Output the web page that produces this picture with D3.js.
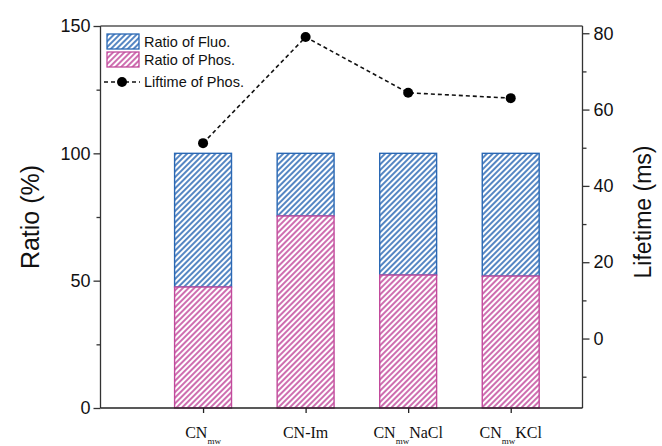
<!DOCTYPE html>
<html><head><meta charset="utf-8">
<script src="https://cdn.jsdelivr.net/npm/d3@7"></script>
<style>body{margin:0;background:#fff}svg{display:block}</style>
</head><body>
<svg id="c" width="662" height="446"></svg>
<script>
const categories = ["CN_mw", "CN-Im", "CN_mwNaCl", "CN_mwKCl"];
const phosRatio = [47.5, 75.4, 52.2, 51.8];
const fluoRatio = [52.5, 24.6, 47.8, 48.2];
const lifetime = [51.2, 79.0, 64.4, 63.0];
const leftTicks = [0, 50, 100, 150];
const rightTicks = [0, 20, 40, 60, 80];

const svg = d3.select("#c");
const L = 100.5, R = 582.5, T = 26, B = 408;
const x = d3.scaleLinear().domain([0, 4.7]).range([L, R]);
const y = d3.scaleLinear().domain([0, 150]).range([B, T]);
const y2 = d3.scaleLinear().domain([-18.2, 81.9]).range([B, T]);
const blue = "#2a68b4", pink = "#c24a9c";
const defs = svg.append("defs");
function hatch(id, col){
  const s = 4;
  const p = defs.append("pattern").attr("id", id).attr("patternUnits","userSpaceOnUse")
    .attr("width", s).attr("height", s).attr("patternTransform","rotate(45)");
  p.append("rect").attr("width",s).attr("height",s).attr("fill","#fff");
  p.append("line").attr("x1",1).attr("y1",0).attr("x2",1).attr("y2",s)
    .attr("stroke", col).attr("stroke-width",1.6);
}
hatch("hb", blue); hatch("hp", pink);

const bw = 0.555;
const g = svg.append("g");
categories.forEach((c,i)=>{
  const xc = i+1;
  const x0 = x(xc - bw/2), w = x(xc + bw/2) - x0;
  g.append("rect").attr("x", x0).attr("y", y(phosRatio[i] + fluoRatio[i])).attr("width", w)
    .attr("height", y(phosRatio[i]) - y(phosRatio[i] + fluoRatio[i]))
    .attr("fill","url(#hb)").attr("stroke", blue).attr("stroke-width",1.4);
  g.append("rect").attr("x", x0).attr("y", y(phosRatio[i])).attr("width", w)
    .attr("height", y(0) - y(phosRatio[i]))
    .attr("fill","url(#hp)").attr("stroke", pink).attr("stroke-width",1.4);
});

// frame
svg.append("line").attr("x1",L).attr("x2",R).attr("y1",T).attr("y2",T).attr("stroke","#555").attr("stroke-width",1.3);

// left axis
const la = svg.append("g").attr("transform",`translate(${L},0)`)
  .call(d3.axisLeft(y).tickValues(leftTicks).tickSize(7).tickPadding(3).tickFormat(d3.format("d")));
svg.append("g").attr("transform",`translate(${L},0)`)
  .call(d3.axisLeft(y).tickValues([25,75,125]).tickSize(4).tickFormat(""))
  .call(s=>s.select(".domain").remove());
la.selectAll("text").attr("font-family","Liberation Sans, Arial, sans-serif").attr("font-size",18).attr("fill","#111");

// right axis
const ra = svg.append("g").attr("transform",`translate(${R},0)`)
  .call(d3.axisRight(y2).tickValues(rightTicks).tickSize(7).tickPadding(4).tickFormat(d3.format("d")));
ra.select(".domain").attr("d", `M0,${T}V${B}`);
svg.append("g").attr("transform",`translate(${R},0)`)
  .call(d3.axisRight(y2).tickValues([-10,10,30,50,70]).tickSize(4).tickFormat(""))
  .call(s=>s.select(".domain").remove());
ra.selectAll("text").attr("font-family","Liberation Sans, Arial, sans-serif").attr("font-size",18).attr("fill","#111");
la.select(".domain").attr("d", `M0,${B}V${T}`);
svg.selectAll(".domain, .tick line").attr("stroke","#333").attr("stroke-width",1.3);

// bottom axis
const ba = svg.append("g").attr("transform",`translate(0,${B})`)
  .call(d3.axisBottom(x).tickValues([1,2,3,4]).tickSize(5).tickFormat(""));
ba.select(".domain").attr("d", `M${L},0H${R}`).attr("stroke","#222").attr("stroke-width",1.3);
ba.selectAll(".tick line").attr("stroke","#222").attr("stroke-width",1.3);

categories.forEach((c,i)=>{
  const t = svg.append("text").attr("x", x(i+1)).attr("y", 438).attr("text-anchor","middle")
    .attr("font-family","Liberation Serif, Times New Roman, serif").attr("font-size",16).attr("fill","#111");
  if (c.startsWith("CN_mw")) {
    t.append("tspan").text("CN");
    t.append("tspan").attr("dy",6).attr("font-size",9).text("mw");
    const rest = c.slice(5);
    if (rest) t.append("tspan").attr("dy",-6).text(rest);
  } else t.text(c);
});

// line
const line = d3.line().x((d,i)=>x(i+1)).y(d=>y2(d));
svg.append("path").datum(lifetime).attr("d", line).attr("fill","none")
  .attr("stroke","#111").attr("stroke-width",1.6).attr("stroke-dasharray","4,3");
svg.selectAll(".dot").data(lifetime).enter().append("circle")
  .attr("cx",(d,i)=>x(i+1)).attr("cy",d=>y2(d)).attr("r",5).attr("fill","#000");

// axis titles
svg.append("text").attr("transform","translate(39,217) rotate(-90)").attr("text-anchor","middle")
  .attr("font-family","Liberation Sans, Arial, sans-serif").attr("font-size",25).attr("fill","#111").text("Ratio (%)");
svg.append("text").attr("transform","translate(651,212) rotate(-90)").attr("text-anchor","middle")
  .attr("font-family","Liberation Sans, Arial, sans-serif").attr("font-size",23).attr("fill","#111").text("Lifetime (ms)");

// legend
const lg = svg.append("g");
lg.append("rect").attr("x",107).attr("y",34).attr("width",32).attr("height",15)
  .attr("fill","url(#hb)").attr("stroke",blue).attr("stroke-width",1.3);
lg.append("rect").attr("x",107).attr("y",52).attr("width",32).attr("height",15)
  .attr("fill","url(#hp)").attr("stroke",pink).attr("stroke-width",1.3);
lg.append("line").attr("x1",104).attr("x2",140).attr("y1",82).attr("y2",82)
  .attr("stroke","#111").attr("stroke-width",1.6).attr("stroke-dasharray","4,3");
lg.append("circle").attr("cx",122).attr("cy",82).attr("r",5).attr("fill","#000");
const legT = ["Ratio of Fluo.","Ratio of Phos.","Liftime of Phos."];
const legY = [47, 65, 87];
legT.forEach((t,i)=>lg.append("text").attr("x",144).attr("y",legY[i])
  .attr("font-family","Liberation Sans, Arial, sans-serif").attr("font-size",14.5).attr("fill","#111").text(t));
</script>
</body></html>
